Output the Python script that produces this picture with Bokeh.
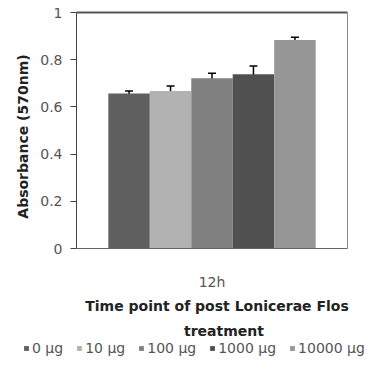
import math
from bokeh.plotting import figure
from bokeh.models import (ColumnDataSource, Whisker, TeeHead, Legend, LegendItem,
                          LinearAxis, FixedTicker, Label, Range1d)
from bokeh.embed import file_html
from bokeh.resources import INLINE

categories = ["12h"]
series = ["0 μg", "10 μg", "100 μg", "1000 μg", "10000 μg"]
values = [0.657, 0.667, 0.721, 0.738, 0.884]
errors = [0.010, 0.022, 0.022, 0.035, 0.011]
colors = ["#5f5f5f", "#b2b2b2", "#808080", "#505050", "#969696"]
y_ticks = [0, 0.2, 0.4, 0.6, 0.8, 1]

FONT = "DejaVu Sans"
W, H = 371, 356
# plot box in canvas pixels
BOX_L, BOX_R, BOX_T, BOX_B = 76, 347, 12, 248
PX_X = BOX_R - BOX_L        # px per x unit (one category slot = 0..1)
PX_Y = BOX_B - BOX_T        # px per y unit (0..1)
BAR_W = 0.153

x_range = Range1d(-BOX_L / PX_X, 1 + (W - BOX_R) / PX_X)
y_range = Range1d(-(H - BOX_B) / PX_Y, 1 + BOX_T / PX_Y)

p = figure(width=W, height=H, x_range=x_range, y_range=y_range,
           x_axis_location=None, y_axis_location=None,
           output_backend="svg", toolbar_location=None,
           min_border=0, min_border_left=0, min_border_right=0,
           min_border_top=0, min_border_bottom=0)
p.grid.grid_line_color = None
p.outline_line_color = None
p.background_fill_color = "white"
p.border_fill_color = "white"

# bars + error bars, dodged around the category centre
cat_center = 0.5
renderers = []
for i, (name, v, e, c) in enumerate(zip(series, values, errors, colors)):
    xpos = cat_center + (i - (len(series) - 1) / 2) * BAR_W
    src = ColumnDataSource(dict(x=[xpos], top=[v], upper=[v + e], lower=[v - e]))
    r = p.vbar(x="x", top="top", width=BAR_W, source=src, fill_color=c, line_color=None)
    renderers.append((name, r))
    p.add_layout(Whisker(base="x", upper="upper", lower="lower", source=src,
                         line_color="black", line_width=1.5,
                         upper_head=TeeHead(size=8, line_color="black", line_width=1.5),
                         lower_head=TeeHead(size=8, line_color="black", line_width=1.5)))

# y axis at x=0
ya = LinearAxis(fixed_location=0, bounds=(0, 1), ticker=FixedTicker(ticks=y_ticks))
ya.major_label_overrides = {0: "0", 1: "1"}
ya.major_label_text_font = FONT
ya.major_label_text_font_size = "14px"
ya.major_label_text_color = "#555555"
ya.major_label_standoff = 8
ya.axis_line_color = "#444444"
ya.major_tick_line_color = "#444444"
ya.major_tick_in = 0
ya.major_tick_out = 6
ya.minor_tick_line_color = None
p.add_layout(ya, "left")

# x axis at y=0
xa = LinearAxis(fixed_location=0, bounds=(0, 1), ticker=FixedTicker(ticks=[cat_center]))
xa.major_label_overrides = {cat_center: categories[0]}
xa.axis_line_color = "#666666"
xa.major_tick_line_color = None
xa.major_tick_in = 0
xa.major_tick_out = 0
xa.minor_tick_line_color = None
xa.major_label_text_font = FONT
xa.major_label_text_font_size = "14px"
xa.major_label_text_color = "#555555"
xa.major_label_standoff = 25
p.add_layout(xa, "below")

# top and right borders of the plot box
top = LinearAxis(fixed_location=1, bounds=(0, 1), ticker=FixedTicker(ticks=[]))
top.axis_line_color = "#555555"
top.axis_line_width = 2
top.major_tick_line_color = None
top.minor_tick_line_color = None
top.major_label_text_color = None
p.add_layout(top, "above")

right = LinearAxis(fixed_location=1, bounds=(0, 1), ticker=FixedTicker(ticks=[]))
right.axis_line_color = "#8a8a8a"
right.major_tick_line_color = None
right.minor_tick_line_color = None
right.major_label_text_color = None
p.add_layout(right, "right")

def px_x(px):
    return (px - BOX_L) / PX_X

def px_y(py):
    return (BOX_B - py) / PX_Y

p.add_layout(Label(x=px_x(22), y=px_y(136), text="Absorbance (570nm)", angle=math.pi / 2,
                   text_align="center", text_baseline="middle", text_font=FONT,
                   text_font_size="14px", text_font_style="bold", text_color="#222222"))
p.add_layout(Label(x=px_x(216.5), y=px_y(305), text="Time point of post Lonicerae Flos",
                   text_align="center", text_baseline="middle", text_font=FONT,
                   text_font_size="14px", text_font_style="bold", text_color="#222222"))
p.add_layout(Label(x=px_x(223.5), y=px_y(330), text="treatment",
                   text_align="center", text_baseline="middle", text_font=FONT,
                   text_font_size="14px", text_font_style="bold", text_color="#222222"))

legend = Legend(items=[LegendItem(label=n, renderers=[r]) for n, r in renderers],
                orientation="horizontal", location=(23, 0),
                glyph_width=6, glyph_height=6, label_standoff=3, spacing=13,
                padding=0, margin=0, border_line_color=None,
                background_fill_alpha=0,
                label_text_font=FONT, label_text_font_size="14px",
                label_text_color="#555555")
p.add_layout(legend, "center")

open("out.html", "w").write(file_html(p, INLINE))
